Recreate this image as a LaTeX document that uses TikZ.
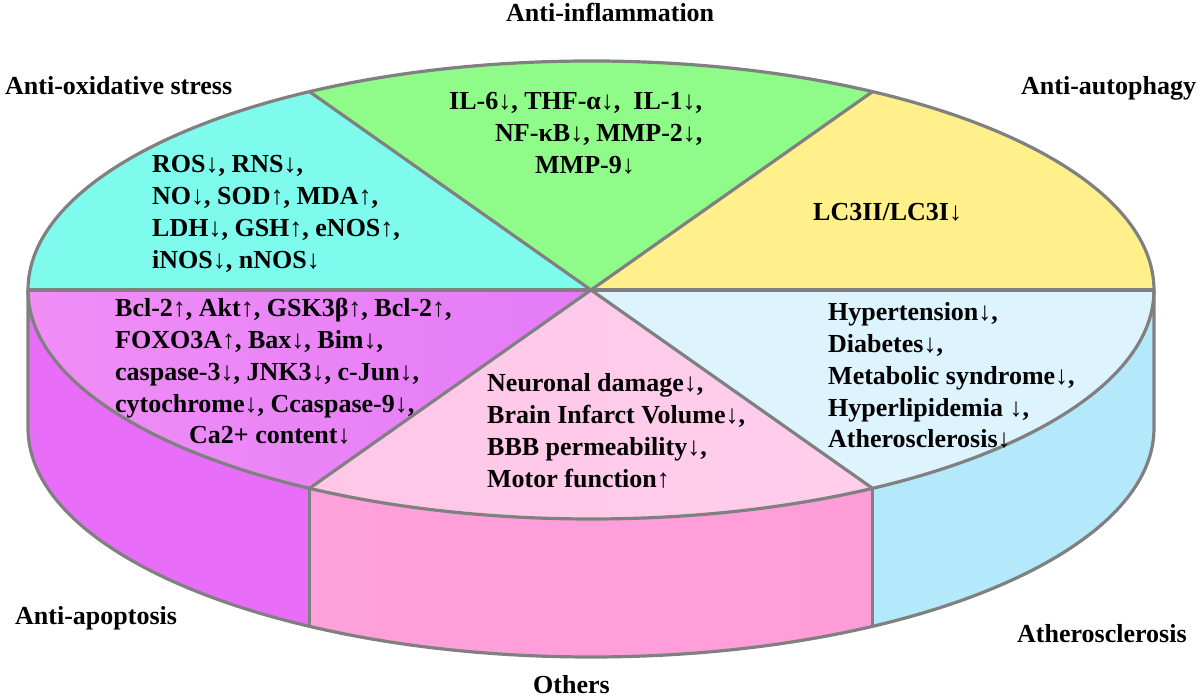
\documentclass[tikz,border=0pt]{standalone}
\usepackage{fontspec}
\setmainfont{Liberation Serif}
\definecolor{cyanT}{HTML}{7FFBEE}
\definecolor{greenT}{HTML}{8FFB88}
\definecolor{yellowT}{HTML}{FFF08C}
\definecolor{blueT}{HTML}{DDF4FE}
\definecolor{blueS}{HTML}{B3E9FA}
\definecolor{pinkT}{HTML}{FFC6E8}
\definecolor{pinkS}{HTML}{FF9DD9}
\definecolor{magS}{HTML}{E86DF9}
\definecolor{magTa}{HTML}{F08EF6}
\definecolor{magTb}{HTML}{E47BF8}
\definecolor{outlc}{HTML}{808080}
\begin{document}
\begin{tikzpicture}[x=1pt,y=1pt,
  outl/.style={draw=outlc,line width=3.2pt,line join=round},
  el/.style={x radius=563pt,y radius=229pt},
  body/.style={font=\fontsize{26}{31.7}\selectfont\bfseries,inner sep=0pt,anchor=base west},
  lab/.style={font=\fontsize{26}{31.7}\selectfont\bfseries,inner sep=0pt,anchor=base west}]
\useasboundingbox (0,0) rectangle (1200,700);
\begin{scope}[shift={(591,410)}]
  \coordinate (C) at (0,0);
  % side faces
  \fill[magS] (180:563pt and 229pt) arc[start angle=180,end angle=240,el]
     -- ++(0,-138) arc[start angle=240,end angle=180,el] -- cycle;
  \shade[left color=pinkS!96!white,right color=pinkS] (240:563pt and 229pt) arc[start angle=240,end angle=300,el]
     -- ++(0,-138) arc[start angle=300,end angle=240,el] -- cycle;
  \fill[blueS] (300:563pt and 229pt) arc[start angle=300,end angle=360,el]
     -- ++(0,-138) arc[start angle=360,end angle=300,el] -- cycle;
  % top slices
  \fill[yellowT] (C) -- (0:563pt and 229pt) arc[start angle=0,end angle=60,el] -- cycle;
  \fill[greenT] (C) -- (60:563pt and 229pt) arc[start angle=60,end angle=120,el] -- cycle;
  \fill[cyanT] (C) -- (120:563pt and 229pt) arc[start angle=120,end angle=180,el] -- cycle;
  \shade[left color=magTa,right color=magTb] (C) -- (180:563pt and 229pt) arc[start angle=180,end angle=240,el] -- cycle;
  \shade[left color=pinkT,right color=pinkT!85!white] (C) -- (240:563pt and 229pt) arc[start angle=240,end angle=300,el] -- cycle;
  \fill[blueT] (C) -- (300:563pt and 229pt) arc[start angle=300,end angle=360,el] -- cycle;
  % outlines
  \draw[outl] (C) ellipse[el];
  \foreach \t in {0,60,120,180,240,300} { \draw[outl] (C) -- (\t:563pt and 229pt); }
  \draw[outl] (180:563pt and 229pt) -- ++(0,-138) arc[start angle=180,end angle=360,el] -- ++(0,138);
  \draw[outl] (240:563pt and 229pt) -- ++(0,-138);
  \draw[outl] (300:563pt and 229pt) -- ++(0,-138);
\end{scope}
% body texts
\node[body] (tGreen) at (449,590) {\begin{tabular}[t]{@{}l@{}}IL-6↓, THF-α↓,~ IL-1↓,\\\hspace*{46pt}NF-κB↓, MMP-2↓,\\\hspace*{86pt}MMP-9↓\end{tabular}};
\node[body] (tCyan) at (152,527) {\begin{tabular}[t]{@{}l@{}}ROS↓, RNS↓,\\NO↓, SOD↑, MDA↑,\\LDH↓, GSH↑, eNOS↑,\\iNOS↓, nNOS↓\end{tabular}};
\node[body] (tYellow) at (813,479) {LC3II/LC3I↓};
\node[body] (tMag) at (115,383) {\begin{tabular}[t]{@{}l@{}}Bcl-2↑, Akt↑, GSK3β↑, Bcl-2↑,\\FOXO3A↑, Bax↓, Bim↓,\\caspase-3↓, JNK3↓, c-Jun↓,\\cytochrome↓, Ccaspase-9↓,\\\hspace*{74pt}Ca2+ content↓\end{tabular}};
\node[body] (tPink) at (487,308) {\begin{tabular}[t]{@{}l@{}}Neuronal damage↓,\\Brain Infarct Volume↓,\\BBB permeability↓,\\Motor function↑\end{tabular}};
\node[body] (tBlue) at (828,379) {\begin{tabular}[t]{@{}l@{}}Hypertension↓,\\Diabetes↓,\\Metabolic syndrome↓,\\Hyperlipidemia ↓,\\Atherosclerosis↓\end{tabular}};
% labels
\node[lab] (lInfl) at (506,678) {Anti-inflammation};
\node[lab] (lOx) at (5,605) {Anti-oxidative stress};
\node[lab] (lAuto) at (1021,605) {Anti-autophagy};
\node[lab] (lApo) at (15,75) {Anti-apoptosis};
\node[lab] (lAth) at (1017,57) {Atherosclerosis};
\node[lab] (lOth) at (533,6) {Others};
\end{tikzpicture}
\end{document}
